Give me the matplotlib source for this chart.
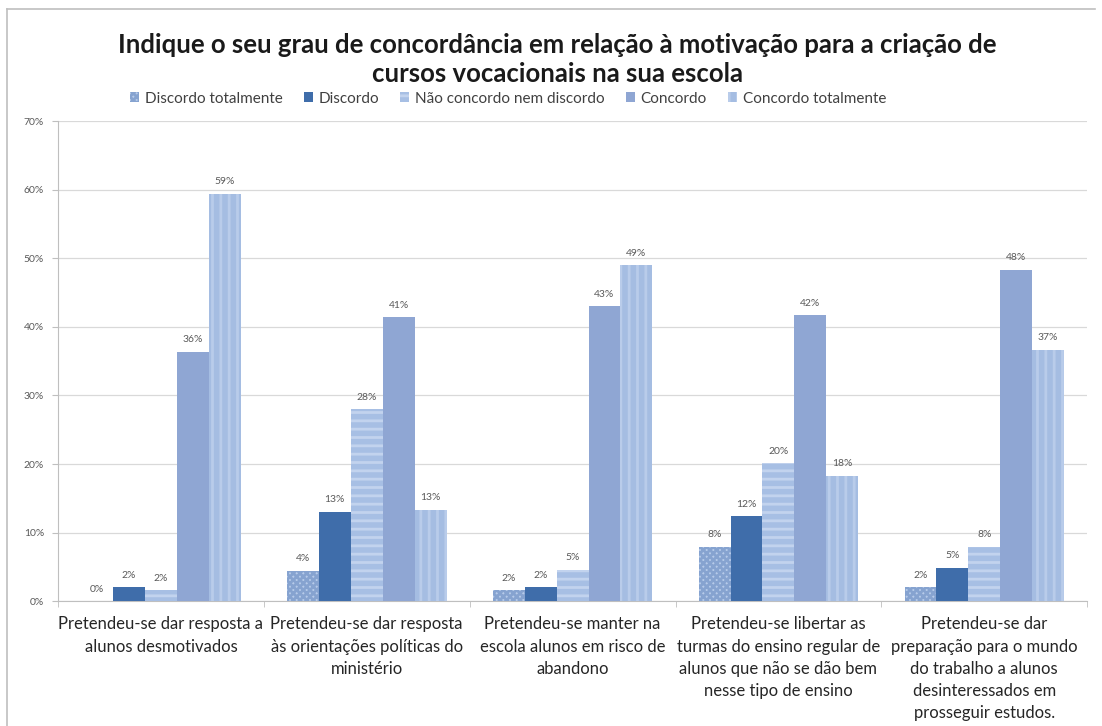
import matplotlib
matplotlib.use("Agg")
import matplotlib.pyplot as plt
import numpy as np
from matplotlib.patches import Rectangle
from matplotlib.lines import Line2D

categories = [
    "Pretendeu-se dar resposta a\nalunos desmotivados",
    "Pretendeu-se dar resposta\nàs orientações políticas do\nministério",
    "Pretendeu-se manter na\nescola alunos em risco de\nabandono",
    "Pretendeu-se libertar as\nturmas do ensino regular de\nalunos que não se dão bem\nnesse tipo de ensino",
    "Pretendeu-se dar\npreparação para o mundo\ndo trabalho a alunos\ndesinteressados em\nprosseguir estudos.",
]
series_names = ["Discordo totalmente", "Discordo", "Não concordo nem discordo",
                "Concordo", "Concordo totalmente"]
discordo_totalmente = [0.0, 4.4, 1.6, 7.9, 2.0]
discordo = [2.0, 13.0, 2.0, 12.4, 4.9]
nao_concordo = [1.6, 28.0, 4.6, 20.1, 7.9]
concordo = [36.4, 41.4, 43.0, 41.7, 48.3]
concordo_totalmente = [59.4, 13.3, 49.0, 18.3, 36.7]
yticks = [0, 10, 20, 30, 40, 50, 60, 70]

series = [discordo_totalmente, discordo, nao_concordo, concordo, concordo_totalmente]
faces = ["#B7CBEA", "#3F6DAA", "#A7BFE4", "#8FA6D3", "#A5BDE2"]
hatch_cols = ["#86A3D0", "#3F6DAA", "#C2D3EE", "#8FA6D3", "#B9CCEA"]
hatches = ["xxxxx", None, "--", None, "||"]

plt.rcParams['font.family'] = ['Lato', 'DejaVu Sans']
plt.rcParams['hatch.linewidth'] = 2.0

fig = plt.figure(figsize=(11.02, 7.26), dpi=100)
ax = fig.add_axes([0.0526, 0.172, 0.934, 0.661])

n = len(categories)
x = np.arange(n)
bw = 0.155
for i, (vals, fc, hc, h) in enumerate(zip(series, faces, hatch_cols, hatches)):
    pos = x + (i - 2) * bw
    if h:
        ax.bar(pos, vals, bw, color=fc, edgecolor=hc, hatch=h, linewidth=0, zorder=3)
    else:
        ax.bar(pos, vals, bw, color=fc, linewidth=0, zorder=3)
    for p, v in zip(pos, vals):
        ax.text(p, v + 1.1, f"{round(v)}%", ha="center", va="bottom",
                fontsize=7.5, color="#595959", zorder=4)

ax.set_xlim(-0.5, n - 0.5)
ax.set_ylim(0, 70)
ax.set_yticks(yticks)
ax.set_yticklabels([f"{t}%" for t in yticks], fontsize=7.5, color="#595959")
ax.yaxis.grid(True, color="#D9D9D9", linewidth=0.9, zorder=0)
ax.set_axisbelow(True)
for s in ["top", "right"]:
    ax.spines[s].set_visible(False)
ax.spines["left"].set_color("#BFBFBF")
ax.spines["bottom"].set_color("#BFBFBF")
ax.tick_params(axis="y", length=4, color="#BFBFBF", pad=6)
ax.set_xticks(x)
ax.set_xticklabels(categories, fontsize=12, color="#262626", linespacing=1.48)
ax.tick_params(axis="x", length=0, pad=11)
ax.set_xticks(np.arange(n + 1) - 0.5, minor=True)
ax.tick_params(axis="x", which="minor", length=4, color="#BFBFBF")

fig.text(0.506, 0.882, "Indique o seu grau de concordância em relação à motivação para a criação de\ncursos vocacionais na sua escola",
         ha="center", va="bottom", fontsize=18.5, fontweight="bold", color="#1a1a1a", linespacing=1.25)

handles = [Rectangle((0, 0), 1, 1, facecolor=fc, edgecolor=hc, hatch=h, linewidth=0)
           for fc, hc, h in zip(faces, hatch_cols, hatches)]
fig.legend(handles, series_names, loc="center", bbox_to_anchor=(0.461, 0.864), ncol=5,
           frameon=False, fontsize=11, handlelength=0.6, handleheight=0.6,
           handletextpad=0.35, columnspacing=1.4, labelcolor="#404040")

# outer frame lines
fig.add_artist(Line2D([0.006, 0.994], [0.987, 0.987], color="#BFBFBF", lw=1.2))
fig.add_artist(Line2D([0.006, 0.006], [0.0, 0.987], color="#BFBFBF", lw=1.2))

fig.savefig("out.png", dpi=100)
